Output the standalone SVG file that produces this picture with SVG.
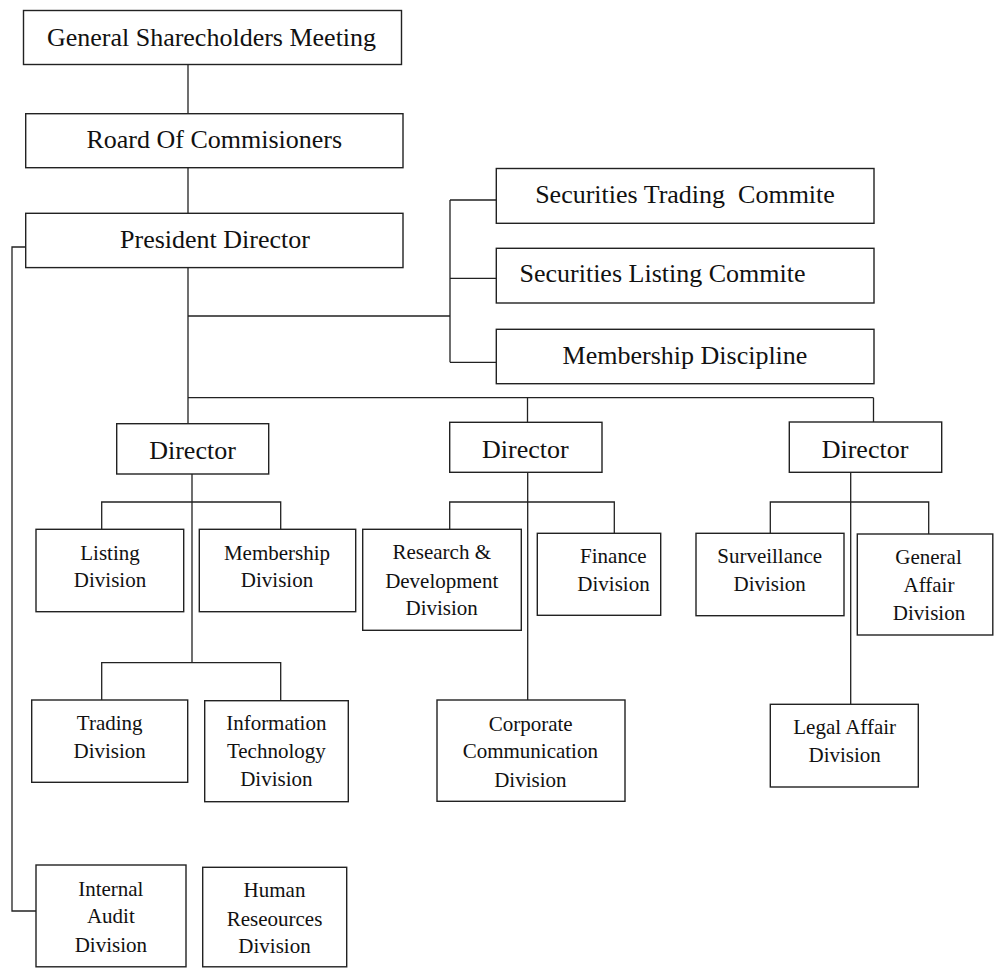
<svg xmlns="http://www.w3.org/2000/svg" width="994" height="968" viewBox="0 0 994 968">
<style>
.b{fill:#fff;stroke:#222;stroke-width:1.4}
.c{fill:none;stroke:#222;stroke-width:1.3}
text{font-family:'Liberation Serif',Tinos,'Times New Roman',Times,'DejaVu Serif',serif;fill:#111;text-anchor:middle}
.l{font-size:26px}
.s{font-size:21px}
</style>
<rect width="994" height="968" fill="#fff"/>
<g id="connectors">
<path class="c" d="M188 64V113M188 168V213M188 268V424"/>
<path class="c" d="M188 316H450M450 200V362.3M450 200H496M450 278.3H496M450 362.3H496"/>
<path class="c" d="M188 397.7H873.5M527.5 397.7V422.3M873.5 397.7V422"/>
<path class="c" d="M26 247H12V911H36"/>
<path class="c" d="M192 474V662.7M101.7 529.3V502H280.7V529.3M101.7 700V662.7H280.7V700.7"/>
<path class="c" d="M527.7 472.3V700M449.7 529.3V502H614.3V533.3"/>
<path class="c" d="M850.7 472.3V704.3M770.3 533.3V502H928.7V534"/>
</g>
<g id="gsm"><rect class="b" x="23.5" y="10.5" width="378" height="54"/><text class="l" x="211.5" y="46" font-family="Liberation Serif, serif">General Sharecholders Meeting</text></g>
<g id="boc"><rect class="b" x="25.7" y="113.7" width="377.3" height="54"/><text class="l" x="214.3" y="148">Roard Of Commisioners</text></g>
<g id="pd"><rect class="b" x="25.7" y="213.3" width="377.3" height="54.3"/><text class="l" x="215" y="248">President Director</text></g>
<g id="stc"><rect class="b" x="496.3" y="168.5" width="377.7" height="54.8"/><text class="l" x="685" y="203" xml:space="preserve">Securities Trading  Commite</text></g>
<g id="slc"><rect class="b" x="496.3" y="248.3" width="377.7" height="54.7"/><text class="l" x="662.5" y="282">Securities Listing Commite</text></g>
<g id="md"><rect class="b" x="496.3" y="329.3" width="377.7" height="54.4"/><text class="l" x="685" y="364">Membership Discipline</text></g>
<g id="dir1"><rect class="b" x="116.7" y="423.7" width="152" height="50.3"/><text class="l" x="192.5" y="459.3">Director</text></g>
<g id="dir2"><rect class="b" x="449.7" y="422.3" width="152.3" height="50"/><text class="l" x="525.3" y="458">Director</text></g>
<g id="dir3"><rect class="b" x="789.3" y="422" width="152.4" height="50.3"/><text class="l" x="865" y="458.3">Director</text></g>
<g id="listing"><rect class="b" x="36" y="529.3" width="147.7" height="82.4"/><text class="s" x="110" y="560">Listing</text><text class="s" x="110" y="587.3">Division</text></g>
<g id="membership"><rect class="b" x="199.3" y="529.3" width="156.4" height="82.4"/><text class="s" x="277" y="560">Membership</text><text class="s" x="277" y="587.3">Division</text></g>
<g id="trading"><rect class="b" x="31.7" y="700" width="156" height="82.3"/><text class="s" x="109.7" y="730">Trading</text><text class="s" x="109.7" y="757.7">Division</text></g>
<g id="it"><rect class="b" x="204.7" y="700.7" width="143.6" height="101"/><text class="s" x="276.3" y="730">Information</text><text class="s" x="276.3" y="758.3">Technology</text><text class="s" x="276.3" y="785.7">Division</text></g>
<g id="rnd"><rect class="b" x="362.7" y="529.3" width="158.6" height="101"/><text class="s" x="441.7" y="559.3">Research &amp;</text><text class="s" x="441.7" y="588.3">Development</text><text class="s" x="441.7" y="615">Division</text></g>
<g id="finance"><rect class="b" x="537.3" y="533.3" width="123.4" height="82"/><text class="s" x="613.3" y="563.3">Finance</text><text class="s" x="613.5" y="591">Division</text></g>
<g id="corp"><rect class="b" x="437" y="700" width="188" height="101.3"/><text class="s" x="530.7" y="731">Corporate</text><text class="s" x="530.3" y="758.3">Communication</text><text class="s" x="530.3" y="786.7">Division</text></g>
<g id="surv"><rect class="b" x="696" y="533.3" width="148" height="82.4"/><text class="s" x="769.7" y="563.3">Surveillance</text><text class="s" x="769.7" y="591">Division</text></g>
<g id="ga"><rect class="b" x="857.3" y="534" width="135.5" height="101"/><text class="s" x="928.5" y="564.3">General</text><text class="s" x="929" y="592">Affair</text><text class="s" x="929" y="620">Division</text></g>
<g id="legal"><rect class="b" x="770.3" y="704.3" width="148" height="82.7"/><text class="s" x="844.7" y="734.3">Legal Affair</text><text class="s" x="844.7" y="761.7">Division</text></g>
<g id="audit"><rect class="b" x="36" y="865" width="150" height="101.8"/><text class="s" x="110.8" y="895.7">Internal</text><text class="s" x="110.8" y="923.3">Audit</text><text class="s" x="110.8" y="951.7">Division</text></g>
<g id="hr"><rect class="b" x="202.7" y="867.3" width="144" height="99.5"/><text class="s" x="274.5" y="896.7">Human</text><text class="s" x="274.5" y="925.7">Reseources</text><text class="s" x="274.5" y="952.7">Division</text></g>
</svg>
